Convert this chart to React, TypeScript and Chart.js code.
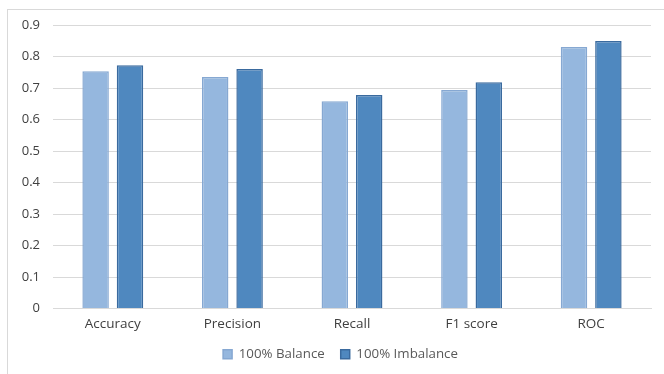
import React, { useEffect, useRef } from "react";
import { Chart, registerables } from "chart.js";

Chart.register(...registerables);

const categories = ["Accuracy", "Precision", "Recall", "F1 score", "ROC"];
const balanceValues = [0.753, 0.735, 0.658, 0.694, 0.830];
const imbalanceValues = [0.772, 0.760, 0.678, 0.718, 0.849];
const seriesNames = ["100% Balance", "100% Imbalance"];
const yTicks = [0, 0.1, 0.2, 0.3, 0.4, 0.5, 0.6, 0.7, 0.8, 0.9];

const FONT = "'Open Sans', 'Noto Sans', sans-serif";

const legendShift = {
  id: "legendShift",
  afterLayout(chart: any) {
    if (chart.legend) {
      chart.legend.left += 15;
      chart.legend.right += 15;
    }
  },
};

export default function App() {
  const ref = useRef<HTMLCanvasElement | null>(null);

  useEffect(() => {
    if (!ref.current) return;
    const chart = new Chart(ref.current, {
      type: "bar",
      data: {
        labels: categories,
        datasets: [
          {
            label: seriesNames[0],
            data: balanceValues,
            backgroundColor: "#95b7de",
            borderColor: "#86a8d2",
            borderWidth: 1.5,
            barPercentage: 0.77,
            categoryPercentage: 0.575,
          },
          {
            label: seriesNames[1],
            data: imbalanceValues,
            backgroundColor: "#4f88bf",
            borderColor: "#3a6a9e",
            borderWidth: 1.5,
            barPercentage: 0.77,
            categoryPercentage: 0.575,
          },
        ],
      },
      plugins: [legendShift],
      options: {
        animation: false,
        responsive: false,
        maintainAspectRatio: false,
        layout: { padding: { left: 0, right: 13, top: 25, bottom: 3 } },
        plugins: {
          tooltip: { enabled: false },
          legend: {
            position: "bottom",
            labels: {
              boxWidth: 9,
              boxHeight: 9,
              color: "#595959",
              font: { family: FONT, size: 13.3 },
              padding: 16,
            },
          },
        },
        scales: {
          x: {
            grid: { display: false },
            border: { display: true, color: "#d9d9d9" },
            afterFit: (scale: any) => {
              scale.height -= 1;
            },
            ticks: {
              color: "#404040",
              font: { family: FONT, size: 13.5 },
              padding: 0,
            },
          },
          y: {
            min: 0,
            max: 0.9,
            afterBuildTicks: (scale: any) => {
              scale.ticks = yTicks.map((v) => ({ value: v }));
            },
            afterFit: (scale: any) => {
              scale.width = 53;
            },
            grid: { color: "#d9d9d9", drawTicks: false, lineWidth: 1 },
            border: { display: false },
            ticks: {
              color: "#404040",
              font: { family: FONT, size: 13 },
              padding: 13,
              callback: (v: any) => (Number(v) === 0 ? "0" : Number(v).toFixed(1)),
            },
          },
        },
      },
    });
    return () => chart.destroy();
  }, []);

  return (
    <div style={{ position: "absolute", left: 0, top: 0, width: 664, height: 374, background: "#fff" }}>
      <div
        style={{
          position: "absolute",
          left: 7,
          top: 9,
          width: 700,
          height: 400,
          borderLeft: "1px solid #d9d9d9",
          borderTop: "1px solid #d9d9d9",
        }}
      />
      <canvas ref={ref} width={664} height={374} style={{ position: "absolute", left: 0, top: 0 }} />
    </div>
  );
}
